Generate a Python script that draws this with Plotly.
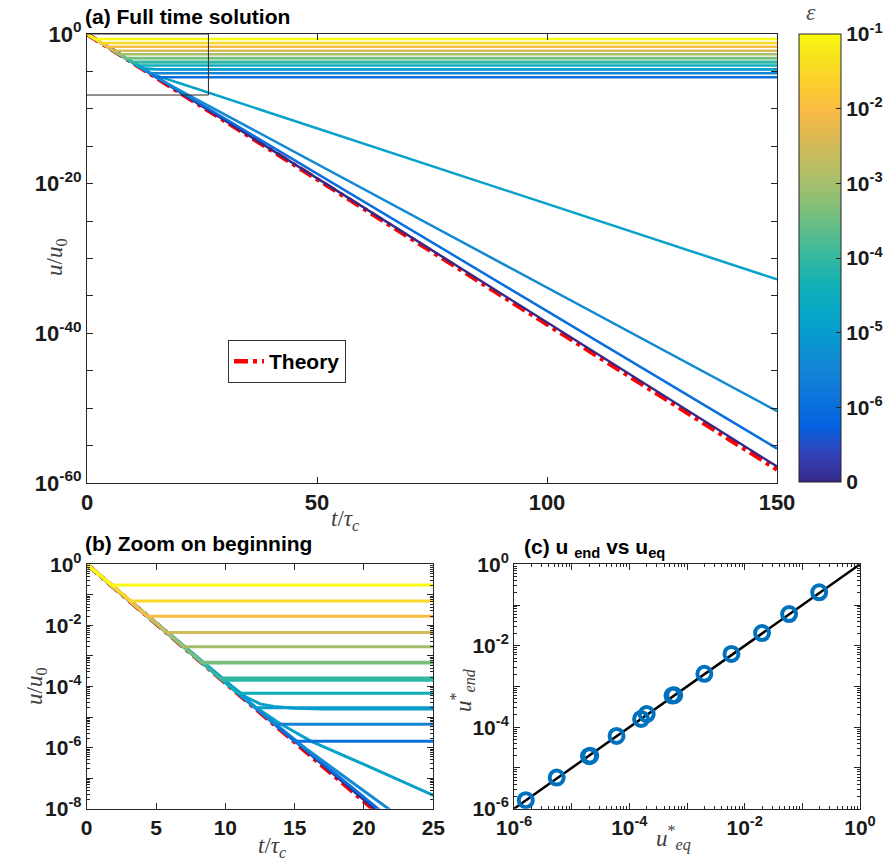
import plotly.graph_objects as go
from plotly.colors import sample_colorscale

# ---------------- data ----------------
theory_t = [0, 150]
theory_u = [1.0, 6.3e-59]

# curves that level off at a plateau (u_eq)
plateau_ueq = [0.21, 0.063, 0.020, 0.0059, 0.0020, 5.9e-4, 6.2e-4, 1.9e-4, 1.6e-4, 6.0e-5, 2.0e-5, 5.8e-6, 1.6e-6]
plateau_tjoin = [1.8, 3.2, 4.4, 5.8, 7.0, 8.4, 8.3, 9.6, 9.8, 10.9, 12.2, 13.6, 15.0]
plateau_eps_log = [-1.0, -1.5, -2.0, -2.5, -3.0, -3.5, -3.4, -4.0, -4.1, -4.5, -5.0, -5.5, -6.0]

# curve with a smooth approach to its plateau
smooth_t = [0, 10.5, 11.5, 12.5, 13.5, 15, 17, 20, 150]
smooth_u = [1.0, 1.0e-4, 4.5e-5, 2.7e-5, 2.2e-5, 1.95e-5, 1.85e-5, 1.82e-5, 1.82e-5]
smooth_eps_log = -4.9

# curves that keep decaying
decay_t = [
    [0, 10, 12, 13.9, 16.2, 20, 25, 150],
    [0, 12, 16, 21.6, 150],
    [0, 14, 21, 150],
    [0, 150],
]
decay_u = [
    [1.0, 1.4e-4, 2.4e-5, 6.3e-6, 1.6e-6, 2.8e-7, 2.8e-8, 1.6e-33],
    [1.0, 2.3e-5, 8.0e-7, 1.0e-8, 4.0e-51],
    [1.0, 4.0e-6, 1.0e-8, 4.0e-56],
    [1.0, 1.6e-58],
]
decay_eps_log = [-4.85, -5.4, -6.0, -7.0]

# zoom box drawn on panel (a)
zoom_box_t = [0, 26.4, 26.4, 0]
zoom_box_u = [1.0, 1.0, 7.0e-9, 7.0e-9]

# panel (c)
ueq_points = [1.6e-6, 5.5e-6, 2.0e-5, 2.1e-5, 6.0e-5, 1.6e-4, 2.0e-4, 5.6e-4, 6.0e-4, 2.0e-3, 5.9e-3, 2.0e-2, 5.9e-2, 0.196]
uend_points = [1.62e-6, 5.8e-6, 1.95e-5, 2.0e-5, 6.1e-5, 1.6e-4, 2.1e-4, 6.0e-4, 6.1e-4, 2.05e-3, 6.3e-3, 2.05e-2, 6.0e-2, 0.205]
identity_x = [1e-6, 1.0]
identity_y = [1e-6, 1.0]

# colorbar ticks
cbar_vals = [-7, -6, -5, -4, -3, -2, -1]
cbar_text = ["0", "10<sup>-6</sup>", "10<sup>-5</sup>", "10<sup>-4</sup>", "10<sup>-3</sup>", "10<sup>-2</sup>", "10<sup>-1</sup>"]

# ---------------- styling ----------------
W, H = 889, 862
parula_rows = [
    (1, 0.2081, 0.1663, 0.5292), (5, 0.1959, 0.2645, 0.7279), (9, 0.0117, 0.3875, 0.8820),
    (13, 0.0498, 0.4586, 0.8641), (17, 0.0793, 0.5200, 0.8312), (21, 0.0343, 0.5966, 0.8199),
    (25, 0.0228, 0.6535, 0.7768), (29, 0.0843, 0.6928, 0.7062), (33, 0.2178, 0.7250, 0.6193),
    (37, 0.3953, 0.7459, 0.5244), (41, 0.5709, 0.7485, 0.4494), (45, 0.7184, 0.7411, 0.3905),
    (49, 0.8507, 0.7299, 0.3360), (53, 0.9739, 0.7314, 0.2666), (57, 0.9880, 0.8066, 0.1794),
    (61, 0.9589, 0.8949, 0.1132), (64, 0.9763, 0.9831, 0.0538),
]
parula = [[(r - 1) / 63, "rgb(%d,%d,%d)" % (round(a * 255), round(b * 255), round(c * 255))]
          for r, a, b, c in parula_rows]
CMIN, CMAX = -7, -1


def col(e):
    return sample_colorscale(parula, [(e - CMIN) / (CMAX - CMIN)])[0]


def px(x):
    return x / W


def py(y):
    return 1 - y / H


fig = go.Figure()

panels = [("x", "y", 2.5), ("x2", "y2", 3)]
for xa, ya, lw in panels:
    # theory
    fig.add_trace(go.Scatter(x=theory_t, y=theory_u, mode="lines", xaxis=xa, yaxis=ya,
                             line=dict(color="red", width=4.5, dash="14px,5px,4px,5px"),
                             name="<b>Theory</b>", showlegend=(xa == "x"), hoverinfo="skip"))
    # decaying
    for t, u, e in zip(decay_t[::-1], decay_u[::-1], decay_eps_log[::-1]):
        fig.add_trace(go.Scatter(x=t, y=u, mode="lines", xaxis=xa, yaxis=ya,
                                 line=dict(color=col(e), width=lw), showlegend=False, hoverinfo="skip"))
    # smooth plateau
    fig.add_trace(go.Scatter(x=smooth_t, y=smooth_u, mode="lines", xaxis=xa, yaxis=ya,
                             line=dict(color=col(smooth_eps_log), width=lw), showlegend=False, hoverinfo="skip"))
    # plateaus (low eps first, yellow last)
    for ueq, tj, e in sorted(zip(plateau_ueq, plateau_tjoin, plateau_eps_log), key=lambda z: z[2]):
        fig.add_trace(go.Scatter(x=[0, tj, 150], y=[1.0, ueq, ueq], mode="lines", xaxis=xa, yaxis=ya,
                                 line=dict(color=col(e), width=lw), showlegend=False, hoverinfo="skip"))

# zoom box
fig.add_trace(go.Scatter(x=zoom_box_t, y=zoom_box_u, mode="lines", xaxis="x", yaxis="y",
                         line=dict(color="#262626", width=1), showlegend=False, hoverinfo="skip"))

# colorbar carrier
fig.add_trace(go.Scatter(x=[0, 0], y=[1.0, 1.0], mode="markers", xaxis="x", yaxis="y",
                         marker=dict(color=[CMIN, CMAX], cmin=CMIN, cmax=CMAX, colorscale=parula,
                                     opacity=0, size=1, showscale=True,
                                     colorbar=dict(x=px(799), xanchor="left", y=py(258), yanchor="middle",
                                                   len=448 / H, lenmode="fraction", thickness=42,
                                                   thicknessmode="pixels", outlinewidth=1,
                                                   outlinecolor="#262626", tickvals=cbar_vals,
                                                   ticktext=cbar_text, ticks="inside", ticklen=5,
                                                   tickcolor="#262626", xpad=0, ypad=0,
                                                   tickfont=dict(family="Liberation Sans", size=21,
                                                                 color="#1a1a1a", weight="bold"))),
                         showlegend=False, hoverinfo="skip"))

# panel (c)
fig.add_trace(go.Scatter(x=identity_x, y=identity_y, mode="lines", xaxis="x3", yaxis="y3",
                         line=dict(color="black", width=2.5), showlegend=False, hoverinfo="skip"))
fig.add_trace(go.Scatter(x=ueq_points, y=uend_points, mode="markers", xaxis="x3", yaxis="y3",
                         marker=dict(symbol="circle-open", size=14, color="#0072bd",
                                     line=dict(width=4, color="#0072bd")),
                         showlegend=False, hoverinfo="skip"))

tickfont_a = dict(family="Liberation Sans", size=22, color="#1a1a1a", weight="bold")
tickfont_b = dict(family="Liberation Sans", size=21, color="#1a1a1a", weight="bold")


def axstyle(tf):
    return dict(showgrid=False, zeroline=False, showline=True, linecolor="#262626", linewidth=1,
                mirror="ticks", ticks="inside", ticklen=6, tickcolor="#262626", tickfont=tf)


def log_minor(lo, hi):
    vals = []
    for k in range(lo, hi):
        for m in range(2, 10):
            vals.append(m * 10.0 ** k)
    return vals


def sup(k):
    return "10<sup>%d</sup>" % k


fig.update_layout(
    width=W, height=H, margin=dict(l=0, r=0, t=0, b=0, autoexpand=False),
    paper_bgcolor="white", plot_bgcolor="white",
    xaxis=dict(domain=[px(87), px(777)], range=[0, 150], anchor="y",
               tickvals=[0, 50, 100, 150], **axstyle(tickfont_a)),
    yaxis=dict(domain=[py(483), py(34)], type="log", range=[-60, 0], anchor="x",
               tickvals=[1, 1e-20, 1e-40, 1e-60], ticktext=[sup(0), sup(-20), sup(-40), sup(-60)],
               minor=dict(tickvals=[10.0 ** (-k) for k in range(5, 60, 5) if k % 20 != 0],
                          ticks="inside", ticklen=6, tickcolor="#262626"),
               **axstyle(tickfont_a)),
    xaxis2=dict(domain=[px(86.7), px(433.3)], range=[0, 25], anchor="y2",
                tickvals=[0, 5, 10, 15, 20, 25], **axstyle(tickfont_b)),
    yaxis2=dict(domain=[py(808.7), py(564.3)], type="log", range=[-8, 0], anchor="x2",
                tickvals=[10.0 ** (-k) for k in range(0, 9)],
                ticktext=[sup(-k) if k % 2 == 0 else "" for k in range(0, 9)],
                minor=dict(tickvals=log_minor(-8, 0), ticks="inside", ticklen=3, tickcolor="#262626"),
                **axstyle(tickfont_b)),
    xaxis3=dict(domain=[px(514), px(860)], type="log", range=[-6, 0], anchor="y3",
                tickvals=[10.0 ** (-k) for k in range(0, 7)],
                ticktext=[sup(-k) if k % 2 == 0 else "" for k in range(0, 7)],
                minor=dict(tickvals=log_minor(-6, 0), ticks="inside", ticklen=3, tickcolor="#262626"),
                **axstyle(tickfont_b)),
    yaxis3=dict(domain=[py(808.7), py(564.3)], type="log", range=[-6, 0], anchor="x3",
                tickvals=[10.0 ** (-k) for k in range(0, 7)],
                ticktext=[sup(-k) if k % 2 == 0 else "" for k in range(0, 7)],
                minor=dict(tickvals=log_minor(-6, 0), ticks="inside", ticklen=3, tickcolor="#262626"),
                **axstyle(tickfont_b)),
    legend=dict(x=px(228), y=py(340), xanchor="left", yanchor="top", bgcolor="white",
                bordercolor="#333333", borderwidth=1,
                font=dict(family="Liberation Sans", size=21, color="black")),
)

label_font = dict(family="Liberation Serif", size=23, color="#404040")
title_font = dict(family="Liberation Sans", size=21, color="black", weight="bold")
annots = [
    dict(text="(a) Full time solution", x=px(83), y=py(17), xanchor="left", font=title_font),
    dict(text="(b) Zoom on beginning", x=px(83), y=py(543), xanchor="left", font=title_font),
    dict(text="(c) u <sub>end</sub> vs u<sub>eq</sub>", x=px(522), y=py(548), xanchor="left", font=title_font),
    dict(text="<i>u</i>/<i>u</i><sub>0</sub>", x=px(40), y=py(258), textangle=-90, font=label_font),
    dict(text="<i>t</i>/<i>τ</i><sub><i>c</i></sub>", x=px(345), y=py(520), font=label_font),
    dict(text="<i>u</i>/<i>u</i><sub>0</sub>", x=px(20), y=py(687), textangle=-90, font=label_font),
    dict(text="<i>t</i>/<i>τ</i><sub><i>c</i></sub>", x=px(256), y=py(847), font=label_font),
    dict(text="<i>u</i><sup>*</sup><sub><i>end</i></sub>", x=px(462), y=py(690), textangle=-90, font=label_font),
    dict(text="<i>u</i><sup>*</sup><sub><i>eq</i></sub>", x=px(693), y=py(838), font=label_font),
    dict(text="<i>ε</i>", x=px(818), y=py(12), font=dict(family="Liberation Serif", size=24, color="#555555")),
]
for a in annots:
    a.update(xref="paper", yref="paper", showarrow=False, yanchor=a.get("yanchor", "middle"))
    fig.add_annotation(**a)

fig.write_html("out.html")
